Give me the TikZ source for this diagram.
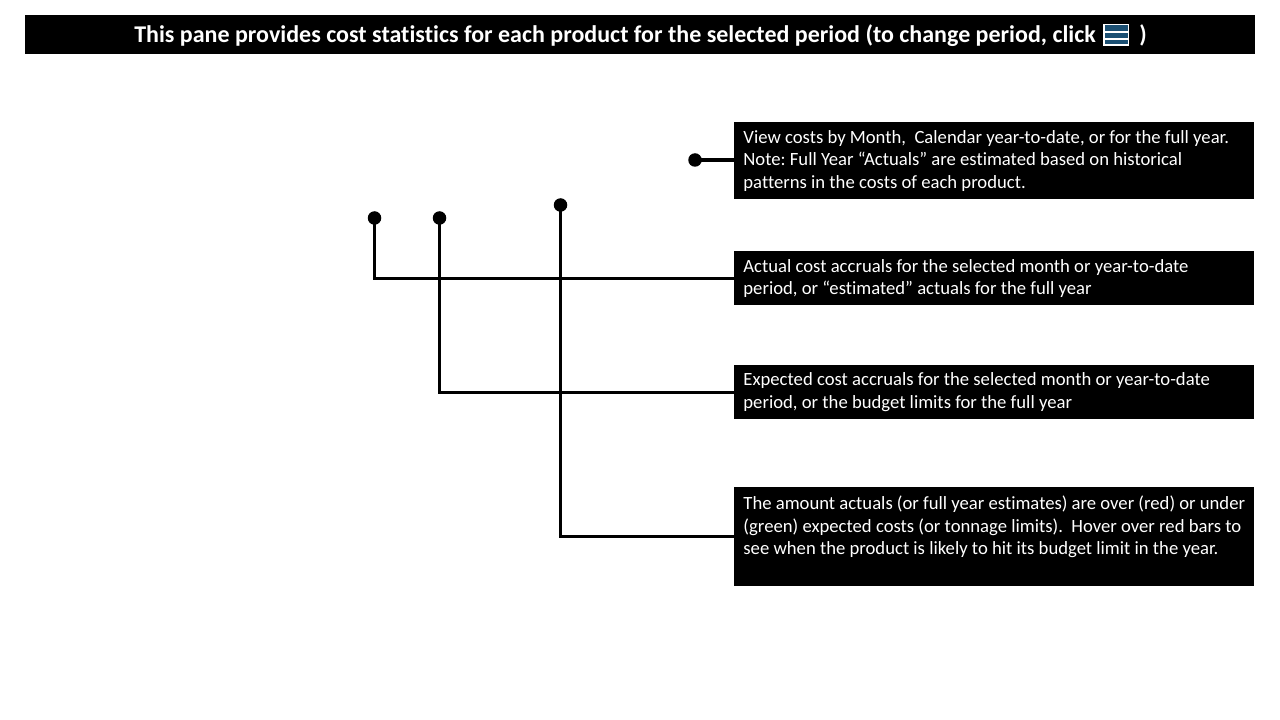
\documentclass[tikz,border=0pt]{standalone}
\usepackage{fontspec}
\setmainfont{Carlito}[Ligatures=NoCommon]
\usetikzlibrary{positioning,calc}
\definecolor{iconblue}{HTML}{1B4F72}
\newcommand{\dblspace}{\ \ }
\tikzset{
  notebox/.style={fill=black,text=white,anchor=north west,inner xsep=6.5pt,inner ysep=0pt,
    text width=501.7*0.025cm,align=flush left,font=\fontsize{13.28}{16}\selectfont\frenchspacing},
  titletext/.style={text=white,inner sep=0pt,anchor=base west,font=\fontsize{17.07}{20}\selectfont\bfseries},
  dot/.style={circle,fill=black,inner sep=0pt,outer sep=0pt,minimum size=13.5*0.025cm},
  leader/.style={line width=2.2pt,black}
}
\begin{document}
\begin{tikzpicture}[x=0.025cm,y=-0.025cm]
  \useasboundingbox (0,0) rectangle (1280,720);

  % Title bar
  \fill[black] (25,15) rectangle (1255,54);
  \node[titletext] (title) at (134,43)
    {This pane provides cost statistics for each product for the selected period (to change period, click};
  \node[titletext] (closing) at (1139,43) {)};

  % Period icon
  \fill[white] (1103,24) rectangle (1129,46);
  \fill[iconblue] (1104.5,25.5) rectangle (1127.5,31.5);
  \fill[iconblue] (1104.5,33) rectangle (1127.5,38.5);
  \fill[iconblue] (1104.5,40) rectangle (1127.5,44.5);

  % Notes
  \node[notebox,minimum height=77*0.025cm] (period) at (734,122) {View costs by Month,\dblspace Calendar year-to-date, or for the full year.\\Note: Full Year “Actuals” are estimated based on historical\\patterns in the costs of each product.};
  \node[notebox,minimum height=54*0.025cm] (actual) at (734,251) {Actual cost accruals for the selected month or year-to-date\\period, or “estimated” actuals for the full year};
  \node[notebox,minimum height=54*0.025cm] (expected) at (734,365) {Expected cost accruals for the selected month or year-to-date\\period, or the budget limits for the full year};
  \node[notebox,minimum height=99*0.025cm] (variance) at (734,487) {The amount actuals (or full year estimates) are over (red) or under\\(green) expected costs (or tonnage limits).\dblspace Hover over red bars to\\see when the product is likely to hit its budget limit in the year.\\ \mbox{}};

  % Dots
  \node[dot] (periodDot) at (695,160) {};
  \node[dot] (actualDot) at (374.5,218) {};
  \node[dot] (expectedDot) at (439.5,218) {};
  \node[dot] (varianceDot) at (560.5,205) {};

  % Leaders
  \draw[leader] (periodDot.center) -- (periodDot.center -| period.west);
  \draw[leader] (actualDot.center) |- (actual.west);
  \draw[leader] (expectedDot.center) |- (expected.west);
  \draw[leader] (varianceDot.center) |- (variance.west);
\end{tikzpicture}
\end{document}
